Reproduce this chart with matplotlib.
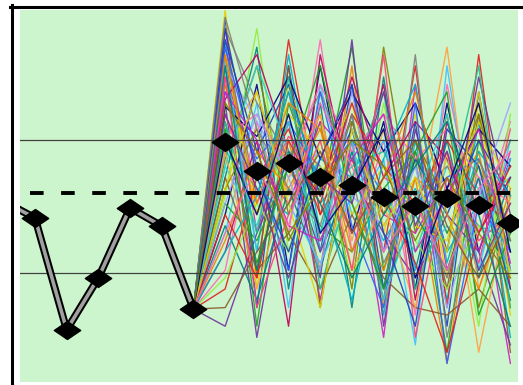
import matplotlib
matplotlib.use("Agg")
import matplotlib.pyplot as plt
from matplotlib.path import Path
from matplotlib.lines import Line2D

# ---- data (values on a 0-100 scale) ----
hist_t = [-1, 0, 1, 2, 3, 4, 5]
hist_v = [48.6, 44.1, 14.0, 28.0, 46.8, 41.9, 19.6]

fc_t = [6, 7, 8, 9, 10, 11, 12, 13, 14, 15]
fc_mean = [64.5, 56.7, 58.9, 55.1, 53.0, 49.7, 47.3, 49.5, 47.6, 42.7]

center_level = 50.8
upper_level = 65.1
lower_level = 29.3

sim_paths = [
    [98, 20, 85, 35, 80, 25, 70, 15, 78, 30],
    [92, 35, 88, 40, 72, 18, 65, 22, 70, 12],
    [85, 15, 75, 50, 90, 30, 60, 8, 65, 40],
    [95, 40, 70, 22, 65, 12, 80, 30, 55, 5],
    [88, 28, 92, 45, 60, 35, 85, 20, 88, 25],
    [80, 45, 65, 30, 85, 20, 55, 5, 60, 35],
    [100, 25, 80, 55, 75, 40, 72, 28, 75, 18],
    [75, 12, 60, 28, 92, 15, 68, 35, 82, 45],
    [90, 50, 78, 38, 55, 22, 88, 12, 50, 30],
    [70, 30, 85, 20, 70, 45, 62, 25, 72, 8],
    [45, 80, 30, 85, 40, 70, 25, 75, 35, 60],
    [55, 90, 25, 75, 20, 82, 30, 65, 28, 55],
    [30, 70, 40, 92, 35, 65, 18, 80, 40, 70],
    [60, 85, 45, 70, 25, 90, 40, 72, 20, 50],
    [40, 75, 20, 80, 45, 60, 10, 85, 30, 65],
    [50, 95, 35, 65, 30, 75, 35, 60, 15, 72],
    [35, 65, 15, 88, 50, 80, 22, 70, 45, 58],
    [65, 78, 50, 72, 38, 68, 45, 90, 25, 48],
    [78, 60, 70, 55, 65, 50, 48, 55, 60, 40],
    [68, 55, 62, 48, 58, 62, 45, 52, 42, 38],
    [85, 70, 55, 62, 50, 42, 58, 40, 55, 30],
    [72, 48, 66, 58, 40, 55, 50, 62, 38, 45],
    [58, 42, 70, 35, 62, 48, 35, 58, 52, 28],
    [92, 62, 80, 50, 68, 35, 60, 45, 65, 50],
    [62, 52, 45, 60, 55, 38, 52, 35, 48, 55],
    [48, 38, 58, 42, 35, 52, 62, 40, 58, 35],
    [82, 58, 48, 70, 60, 45, 40, 55, 35, 62],
    [25, 55, 68, 45, 72, 58, 48, 65, 50, 42],
    [38, 62, 52, 68, 48, 30, 55, 48, 62, 20],
    [88, 45, 72, 62, 45, 58, 42, 38, 70, 52],
    [15, 40, 60, 35, 55, 40, 28, 45, 35, 10],
    [95, 75, 60, 78, 55, 68, 50, 58, 45, 65],
    [55, 30, 40, 25, 45, 28, 20, 18, 25, 15],
    [74, 66, 82, 60, 78, 62, 75, 52, 68, 58],
    [42, 22, 52, 30, 62, 25, 45, 30, 55, 22],
    [66, 72, 58, 80, 62, 72, 60, 68, 55, 48],
    [52, 68, 38, 55, 70, 45, 65, 48, 72, 38],
    [86, 35, 48, 32, 50, 65, 30, 42, 32, 60],
    [28, 48, 35, 58, 28, 50, 38, 25, 42, 30],
    [76, 88, 62, 50, 82, 55, 70, 60, 40, 55],
    [62, 25, 55, 72, 30, 48, 20, 62, 8, 50],
    [90, 58, 30, 78, 42, 20, 75, 5, 48, 35],
    [70, 40, 82, 25, 55, 78, 25, 48, 85, 20],
    [48, 72, 55, 30, 78, 35, 58, 20, 50, 75],
    [82, 20, 45, 65, 30, 88, 12, 55, 32, 68],
    [58, 85, 62, 40, 65, 22, 48, 72, 30, 45],
    [95, 55, 35, 60, 80, 40, 15, 68, 58, 25],
    [35, 50, 78, 52, 22, 60, 80, 32, 62, 50],
    [68, 32, 58, 85, 48, 25, 62, 78, 18, 40],
    [78, 65, 42, 38, 60, 72, 35, 50, 68, 32],
    [45, 28, 65, 48, 75, 50, 32, 8, 40, 58],
    [88, 48, 75, 68, 35, 55, 78, 45, 25, 52],
    [52, 78, 48, 20, 68, 42, 55, 35, 78, 28],
    [72, 52, 28, 55, 48, 78, 42, 62, 30, 48],
    [98, 68, 52, 42, 72, 32, 50, 28, 60, 38],
    [20, 35, 48, 62, 40, 55, 65, 42, 28, 45],
    [65, 45, 72, 40, 52, 68, 28, 52, 75, 35],
    [85, 30, 62, 48, 28, 45, 58, 70, 45, 15],
    [40, 58, 42, 75, 58, 35, 48, 30, 52, 62],
    [75, 62, 40, 52, 65, 58, 38, 55, 40, 28],
]

sim_colors = ['#1f3fbf', '#00b0c8', '#20a020', '#d020c0', '#e02020', '#f08000',
              '#e0d000', '#7030a0', '#808080', '#8b5a2b', '#000080', '#008080',
              '#ff69b4', '#808000', '#40c0ff', '#90ee40', '#c00060', '#ffa040',
              '#3060ff', '#20c090', '#a0a0ff', '#ff4080', '#30d0d0']

# ---- figure ----
W, H = 523, 385
fig = plt.figure(figsize=(W / 100, H / 100), dpi=100)
fig.patch.set_facecolor('white')

# frame lines (left and top) in figure pixel space
fig.add_artist(Line2D([11.5 / W, 11.5 / W], [0, (H - 5) / H], transform=fig.transFigure,
                      color='black', lw=2.2))
fig.add_artist(Line2D([10 / W, 1], [(H - 6.5) / H, (H - 6.5) / H], transform=fig.transFigure,
                      color='black', lw=2.2))

ax = fig.add_axes([20 / W, 3 / H, 498 / W, 372 / H])
ax.set_facecolor('#cdf5cd')
for s in ax.spines.values():
    s.set_visible(False)
ax.set_xticks([])
ax.set_yticks([])

xmin, xmax = -0.473, 15.24
ax.set_xlim(xmin, xmax)
ax.set_ylim(0, 100)

# spaghetti simulations
for i, p in enumerate(sim_paths):
    ax.plot([hist_t[-1]] + fc_t, [hist_v[-1]] + p, color=sim_colors[i % len(sim_colors)],
            lw=1.0, alpha=0.9, zorder=2)

# reference levels
ax.plot([xmin, xmax], [upper_level, upper_level], color='#404040', lw=0.9, zorder=3)
ax.plot([xmin, xmax], [lower_level, lower_level], color='#404040', lw=0.9, zorder=3)
ax.plot([-0.16, xmax], [center_level, center_level], color='black', lw=2.8,
        dashes=(3.5, 4.5), zorder=3)

# diamond marker (wide)
diamond = Path([(-1, 0), (0, 0.68), (1, 0), (0, -0.68), (-1, 0)],
               [Path.MOVETO, Path.LINETO, Path.LINETO, Path.LINETO, Path.CLOSEPOLY])

# historical line
ax.plot(hist_t, hist_v, color='black', lw=5.5, zorder=4, solid_joinstyle='miter')
ax.plot(hist_t, hist_v, color='#a0a0a0', lw=2.6, zorder=5, solid_joinstyle='miter')
ax.plot(hist_t[1:], hist_v[1:], ls='none', marker=diamond, ms=19, color='black', zorder=6)

# forecast mean markers
ax.plot(fc_t, fc_mean, ls='none', marker=diamond, ms=19, color='black', zorder=6)

fig.savefig('out.png', dpi=100, facecolor='white')
